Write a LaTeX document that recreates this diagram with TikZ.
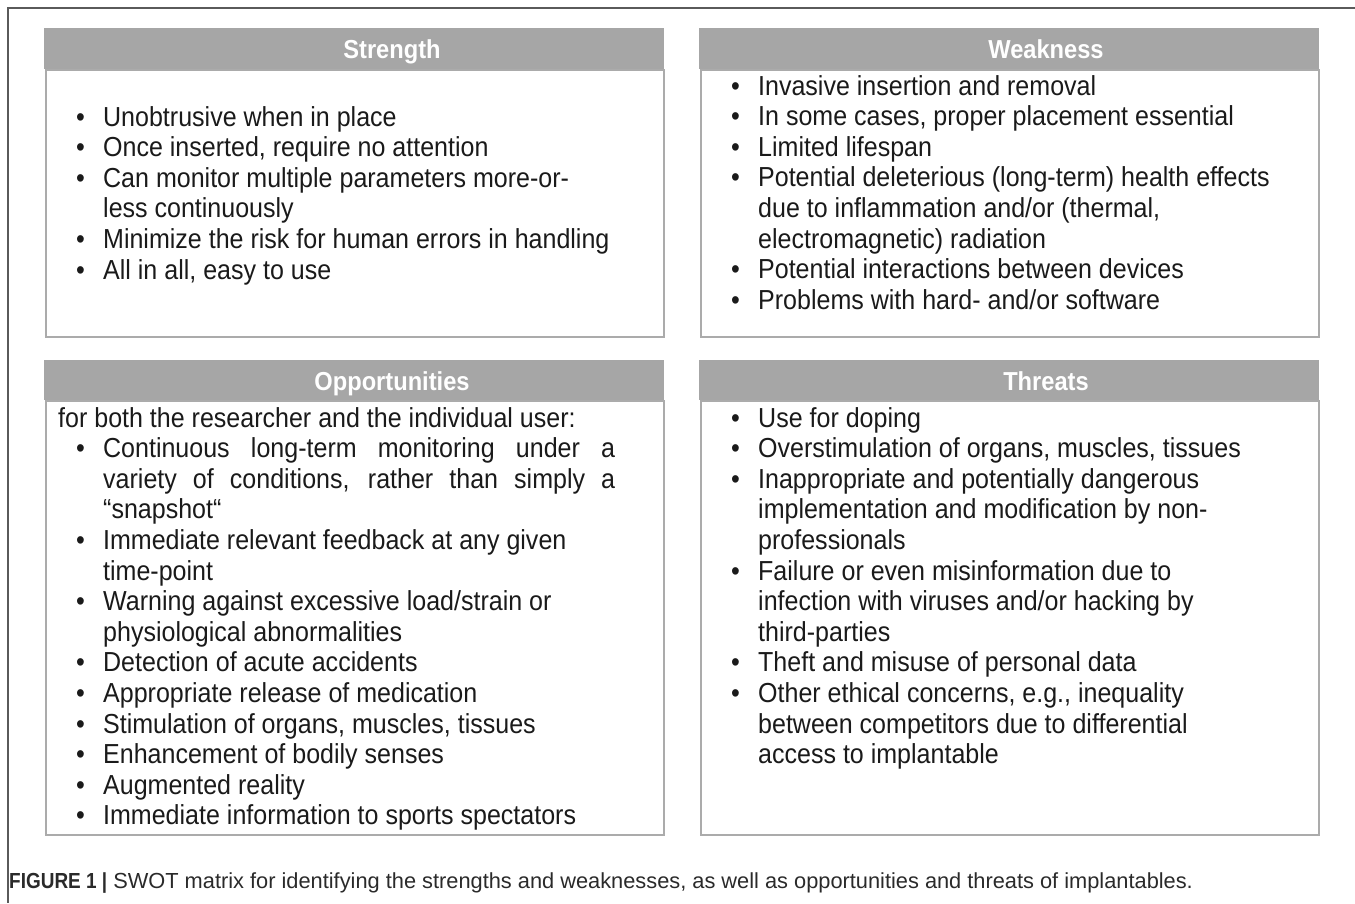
\documentclass[tikz,border=0pt]{standalone}
\usepackage{fontspec}
\usepackage{graphicx}
\setmainfont{Liberation Sans}[FakeStretch=0.91]
\newfontfamily\capfont{Liberation Sans}
\definecolor{hdrgray}{HTML}{A6A6A6}
\definecolor{boxgray}{HTML}{ABABAB}
\definecolor{framec}{HTML}{5A5A5A}
\definecolor{txt}{HTML}{1A1A1A}
\definecolor{captxt}{HTML}{2A2A2A}
\newcommand\bitem{\makebox[30pt][l]{\hspace{3pt}\textbullet}}
\newcommand\cont{\hspace*{30pt}}
\begin{document}
\begin{tikzpicture}[x=1pt,y=-1pt,
  hdr/.style={fill=hdrgray, draw=none, minimum width=620pt, minimum height=41pt, inner sep=0, anchor=north west},
  bodybox/.style={draw=boxgray, line width=2pt, fill=white, minimum width=618pt, inner sep=0, anchor=north west},
  hdrtext/.style={text=white, font=\fontsize{26}{30}\selectfont\bfseries, inner sep=0, anchor=base},
  listtext/.style={anchor=base west, inner sep=0, text=txt, font=\fontsize{27.5}{30.6}\selectfont}
]
\useasboundingbox (0,0) rectangle (1355,903);
\draw[framec, line width=2pt] (1355,8) -- (7.5,8) -- (7.5,903);

% boxes
\node[bodybox, minimum height=267pt] (sb) at (45,69) {};
\node[hdr] (sh) at (44,28) {};
\node[hdrtext] (st) at (392,58) {Strength};

\node[bodybox, minimum height=267pt] (wb) at (700,69) {};
\node[hdr] (wh) at (699,28) {};
\node[hdrtext] (wt) at (1046,58) {Weakness};

\node[bodybox, minimum height=434pt] (ob) at (45,400) {};
\node[hdr, minimum height=40pt] (oh) at (44,360) {};
\node[hdrtext] (ot) at (392,390) {Opportunities};

\node[bodybox, minimum height=434pt] (tb) at (700,400) {};
\node[hdr, minimum height=40pt] (th) at (699,360) {};
\node[hdrtext] (tt) at (1046,390) {Threats};

% texts
\node[listtext] (sl) at (73,126) {\begin{tabular}[t]{@{}l@{}}
\bitem Unobtrusive when in place\\
\bitem Once inserted, require no attention\\
\bitem Can monitor multiple parameters more-or-\\
\cont less continuously\\
\bitem Minimize the risk for human errors in handling\\
\bitem All in all, easy to use
\end{tabular}};

\node[listtext] (wl) at (728,95) {\begin{tabular}[t]{@{}l@{}}
\bitem Invasive insertion and removal\\
\bitem In some cases, proper placement essential\\
\bitem Limited lifespan\\
\bitem Potential deleterious (long-term) health  effects\\
\cont due to inflammation and/or (thermal,\\
\cont electromagnetic) radiation\\
\bitem Potential interactions between devices\\
\bitem Problems with hard- and/or software
\end{tabular}};

\node[listtext] (ol) at (58,427) {\begin{tabular}[t]{@{}l@{}}
for both the researcher and the individual user:\\
\hspace*{15pt}\bitem \makebox[512pt][s]{Continuous long-term monitoring under a}\\
\hspace*{15pt}\cont \makebox[512pt][s]{variety of conditions, rather than simply a}\\
\hspace*{15pt}\cont “snapshot“\\
\hspace*{15pt}\bitem Immediate relevant feedback at any given\\
\hspace*{15pt}\cont time-point\\
\hspace*{15pt}\bitem Warning against excessive load/strain or\\
\hspace*{15pt}\cont physiological abnormalities\\
\hspace*{15pt}\bitem Detection of acute accidents\\
\hspace*{15pt}\bitem Appropriate release of medication\\
\hspace*{15pt}\bitem Stimulation of organs, muscles, tissues\\
\hspace*{15pt}\bitem Enhancement of bodily senses\\
\hspace*{15pt}\bitem Augmented reality\\
\hspace*{15pt}\bitem Immediate information to sports spectators
\end{tabular}};

\node[listtext] (tl) at (728,427) {\begin{tabular}[t]{@{}l@{}}
\bitem Use for doping\\
\bitem Overstimulation of organs, muscles, tissues\\
\bitem Inappropriate and potentially dangerous\\
\cont implementation and modification by non-\\
\cont professionals\\
\bitem Failure or even misinformation due to\\
\cont infection with viruses and/or hacking by\\
\cont third-parties\\
\bitem Theft and misuse of personal data\\
\bitem Other ethical concerns, e.g., inequality\\
\cont between competitors due to differential\\
\cont access to implantable
\end{tabular}};

\node[anchor=base west, inner sep=0, text=captxt, font=\capfont\fontsize{21.8}{24}\selectfont] (cap) at (9,888)
  {\scalebox{0.87}[1]{\textbf{FIGURE 1 |}} SWOT matrix for identifying the strengths and weaknesses, as well as opportunities and threats of implantables.};
\end{tikzpicture}
\end{document}
